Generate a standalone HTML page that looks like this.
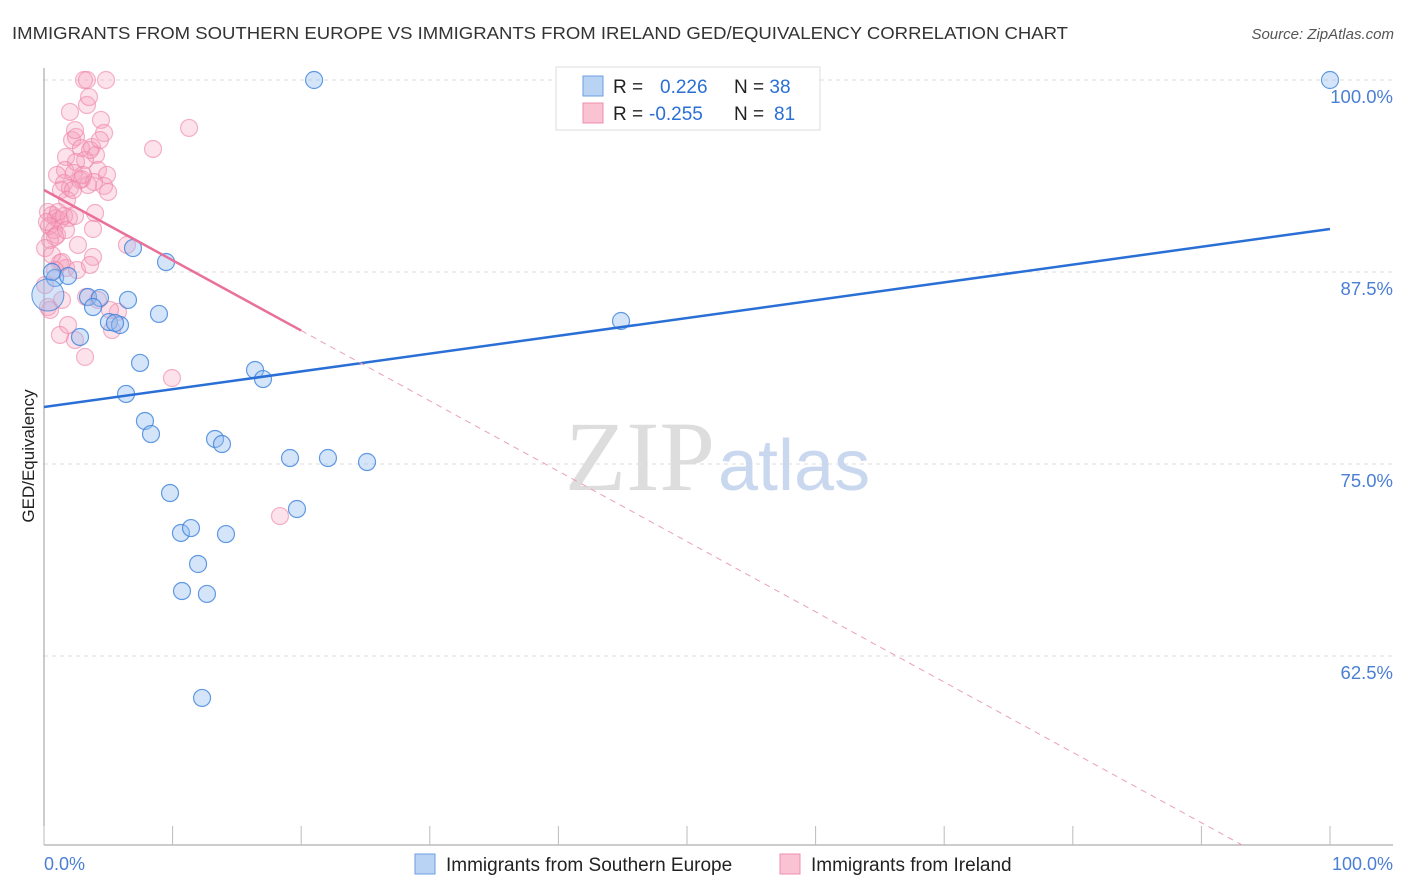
<!DOCTYPE html>
<html><head><meta charset="utf-8"><style>
body{margin:0;background:#fff;font-family:"Liberation Sans",sans-serif}
#c{position:absolute;left:0;top:0}
</style></head><body>
<svg id="c" width="1406" height="892">
<text x="12" y="39" font-size="17.5" fill="#333" textLength="1056" lengthAdjust="spacingAndGlyphs">IMMIGRANTS FROM SOUTHERN EUROPE VS IMMIGRANTS FROM IRELAND GED/EQUIVALENCY CORRELATION CHART</text>
<text x="1394" y="39" font-size="15" fill="#555" font-style="italic" text-anchor="end">Source: ZipAtlas.com</text>
<g id="grid"></g>
<text x="715" y="490" font-size="100" font-family="Liberation Serif" fill="#ddd" text-anchor="end">ZIP</text>
<text x="718" y="490" font-size="72" fill="#c9d8ee">atlas</text>
<line x1="44" y1="68" x2="44" y2="845" stroke="#999"/>
<line x1="44" y1="845" x2="1393" y2="845" stroke="#999"/>
<g id="ticks"></g>
<g id="ylab"></g>
<text x="34" y="456" font-size="17" fill="#222" transform="rotate(-90 34 456)" text-anchor="middle">GED/Equivalency</text>
<text x="44" y="870" font-size="18" fill="#4a7fd4">0.0%</text>
<text x="1393" y="870" font-size="18" fill="#4a7fd4" text-anchor="end">100.0%</text>
<g id="pts"></g>
<g id="lines"></g>
<g>
<rect x="556" y="67" width="264" height="63" fill="#fff" stroke="#ddd"/>
<rect x="583" y="76" width="20" height="20" fill="#b9d3f5" stroke="#6d9de0"/>
<rect x="583" y="103" width="20" height="20" fill="#f9c3d3" stroke="#ee8fac"/>
<text x="613" y="93" font-size="19" fill="#222">R = <tspan fill="#2a6fd6" x="660">0.226</tspan><tspan x="734" fill="#222">N = </tspan><tspan fill="#2a6fd6">38</tspan></text>
<text x="613" y="120" font-size="19" fill="#222">R = <tspan fill="#2a6fd6" x="649">-0.255</tspan><tspan x="734" fill="#222">N = </tspan><tspan fill="#2a6fd6" x="774">81</tspan></text>
</g>
<g>
<rect x="415" y="854" width="20" height="20" fill="#b9d3f5" stroke="#6d9de0"/>
<text x="446" y="871" font-size="19" fill="#222">Immigrants from Southern Europe</text>
<rect x="780" y="854" width="20" height="20" fill="#f9c3d3" stroke="#ee8fac"/>
<text x="811" y="871" font-size="19" fill="#222">Immigrants from Ireland</text>
</g>
</svg>
<script>
const yTicks=[100,87.5,75,62.5];
const yTickLabels=["100.0%","87.5%","75.0%","62.5%"];
const xTicks=[0,10,20,30,40,50,60,70,80,90,100];
const bluePx=[[314,80],[1330,80],[133,248],[166,262],[55,278],[68,276],[88,297],[100,298],[128,300],[93,307],[159,314],[109,322],[120,325],[80,337],[621,321],[140,363],[255,370],[263,379],[126,394],[145,421],[151,434],[215,439],[222,444],[290,458],[328,458],[367,462],[170,493],[297,509],[181,533],[191,528],[226,534],[198,564],[182,591],[207,594],[202,698],[52,272],[115,323]];
const pinkPx=[[84,80],[87,80],[106,80],[70,112],[87,105],[189,128],[101,120],[104,133],[72,140],[76,137],[153,149],[66,157],[81,148],[92,147],[96,155],[85,160],[76,162],[65,170],[98,170],[57,175],[74,173],[82,179],[107,175],[104,186],[108,192],[64,183],[70,188],[88,185],[94,182],[80,180],[48,212],[52,215],[56,218],[60,220],[64,216],[49,226],[54,230],[57,235],[95,213],[93,229],[69,218],[75,216],[50,240],[55,237],[45,248],[60,263],[66,268],[77,270],[93,257],[90,265],[127,245],[62,262],[48,307],[50,310],[86,297],[98,300],[118,312],[112,330],[60,335],[75,340],[85,357],[172,378],[280,516],[75,130],[90,150],[61,190],[67,200],[47,222],[58,212],[73,190],[100,140],[55,270],[66,230],[83,175],[89,97],[78,245],[52,255],[110,310],[68,325],[45,285],[62,300]];
const blueX=bluePx.map(p=>+((p[0]-44)/12.86).toFixed(2)), blueY=bluePx.map(p=>+(100-(p[1]-80)/15.36).toFixed(2));
const pinkX=pinkPx.map(p=>+((p[0]-44)/12.86).toFixed(2)), pinkY=pinkPx.map(p=>+(100-(p[1]-80)/15.36).toFixed(2));
const blueLine=[78.71,90.3];
const pinkLine=[92.84,47.07];
const pinkSolidEnd=20;
const X=v=>44+v*12.86, Y=v=>80+(100-v)*15.36;
const NS="http://www.w3.org/2000/svg";
function mk(t,a,p){const e=document.createElementNS(NS,t);for(const k in a)e.setAttribute(k,a[k]);p.appendChild(e);return e;}
const grid=document.getElementById('grid'),ylab=document.getElementById('ylab'),ticks=document.getElementById('ticks');
yTicks.forEach((v,i)=>{const l=mk('line',{x1:44,x2:1393,y1:Y(v),y2:Y(v),stroke:'#ddd','stroke-dasharray':'4,4'},grid);


const t=mk('text',{x:1393,y:Y(v)+23,'font-size':18.5,fill:'#4a7fd4','text-anchor':'end'},ylab);t.textContent=yTickLabels[i];

});
xTicks.forEach(v=>{const l=mk('line',{x1:X(v),x2:X(v),y1:826,y2:845,stroke:'#bbb'},ticks);

});
const pts=document.getElementById('pts');
pinkX.forEach((x,i)=>{const c=mk('circle',{cx:X(x),cy:Y(pinkY[i]),r:8.5,fill:'rgba(246,160,188,0.3)',stroke:'rgba(238,130,165,0.6)','stroke-width':1.2},pts);

});
blueX.forEach((x,i)=>{const c=mk('circle',{cx:X(x),cy:Y(blueY[i]),r:8.5,fill:'rgba(150,190,240,0.4)',stroke:'rgba(60,130,220,0.8)','stroke-width':1.2},pts);

});
const big=mk('circle',{cx:X(0.3),cy:Y(86),r:16,fill:'rgba(150,190,240,0.4)',stroke:'rgba(60,130,220,0.8)'},pts);


const lines=document.getElementById('lines');
const bl=mk('line',{x1:X(0),y1:Y(blueLine[0]),x2:X(100),y2:Y(blueLine[1]),stroke:'#2a6fd6','stroke-width':2.5},lines);


const pv=x=>pinkLine[0]+(pinkLine[1]-pinkLine[0])*x/100;
const pl=mk('line',{x1:X(0),y1:Y(pv(0)),x2:X(pinkSolidEnd),y2:Y(pv(pinkSolidEnd)),stroke:'#e8709a','stroke-width':2.5},lines);


const xe=(pinkLine[0]-(100-(845-80)/15.36))/(pinkLine[0]-pinkLine[1])*100;
const pd=mk('line',{x1:X(pinkSolidEnd),y1:Y(pv(pinkSolidEnd)),x2:X(xe),y2:Y(pv(xe)),stroke:'#e8a0b8','stroke-width':1,'stroke-dasharray':'6,5'},lines);


</script>
</body></html>
